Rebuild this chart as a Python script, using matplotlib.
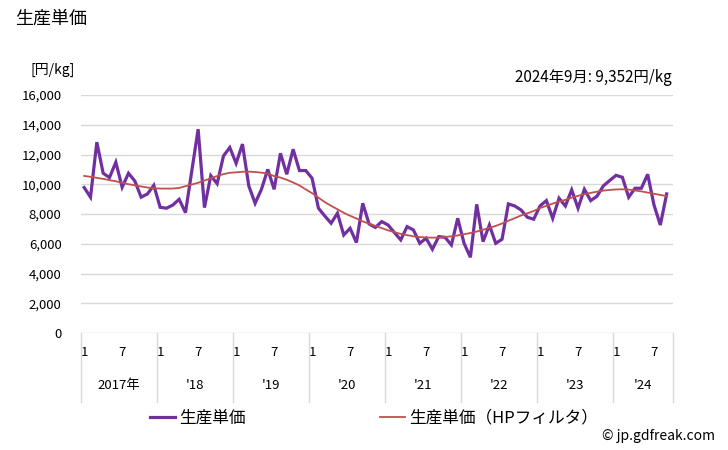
import numpy as np
import matplotlib.pyplot as plt
from matplotlib.lines import Line2D
import matplotlib.transforms as mtransforms

plt.rcParams['font.family'] = ['Noto Sans CJK JP', 'DejaVu Sans']

# monthly unit price, Jan 2017 - Sep 2024 (yen/kg)
price = [9780, 9130, 12830, 10740, 10450, 11480, 9800, 10740, 10220, 9130, 9350, 9930,
         8450, 8390, 8600, 8990, 8090, 10900, 13700, 8430, 10580, 10040, 11900, 12470,
         11410, 12700, 9890, 8720, 9660, 11000, 9660, 12080, 10670, 12350, 10920, 10920,
         10400, 8390, 7870, 7380, 8050, 6590, 7040, 6080, 8720, 7330, 7100, 7490,
         7260, 6750, 6260, 7150, 6930, 6030, 6370, 5630, 6480, 6430, 5920, 7710,
         6030, 5090, 8650, 6140, 7260, 6030, 6300, 8680, 8540, 8270, 7780, 7650,
         8540, 8900, 7710, 9060, 8540, 9620, 8390, 9660, 8900, 9200, 9890, 10250,
         10600, 10470, 9130, 9730, 9730, 10670, 8600, 7260, 9352]

# HP filter trend
trend = [10560, 10500, 10430, 10360, 10280, 10200, 10100, 10000, 9930, 9850, 9780, 9730,
         9710, 9710, 9710, 9750, 9870, 9980, 10100, 10250, 10400, 10550, 10680, 10770,
         10800, 10840, 10850, 10820, 10780, 10720, 10550, 10450, 10300, 10120, 9920, 9650,
         9400, 9100, 8800, 8550, 8320, 8080, 7880, 7700, 7500, 7350, 7200, 7050,
         6900, 6780, 6660, 6580, 6500, 6450, 6420, 6410, 6420, 6450, 6500, 6560,
         6640, 6720, 6820, 6940, 7070, 7200, 7360, 7550, 7720, 7900, 8050, 8200,
         8400, 8550, 8700, 8830, 8950, 9100, 9220, 9330, 9420, 9500, 9570, 9620,
         9650, 9660, 9640, 9580, 9520, 9440, 9360, 9280, 9210]

year_labels = ['2017年', "'18", "'19", "'20", "'21", "'22", "'23", "'24"]
yticks = [0, 2000, 4000, 6000, 8000, 10000, 12000, 14000, 16000]

purple = '#7030A0'
red = '#C0504D'
grid_c = '#D9D9D9'

fig = plt.figure(figsize=(7.28, 4.5), dpi=100)
ax = fig.add_axes([81/728, 1 - 333/450, 592/728, 238/450])

x = np.arange(len(price))
ax.plot(x, price, color=purple, lw=2.3, solid_joinstyle='miter', zorder=3)
ax.plot(x, trend, color=red, lw=1.3, zorder=4)

ax.set_xlim(-0.5, 93)
ax.set_ylim(0, 16000)
ax.set_yticks(yticks)
ax.set_yticklabels([f'{v:,}' for v in yticks], fontsize=9.5)
ax.yaxis.grid(True, color=grid_c, lw=1)
ax.set_axisbelow(True)
for s in ax.spines.values():
    s.set_visible(False)
ax.tick_params(axis='y', length=0, pad=14)

# month ticks
mt = []
ml = []
for k in range(len(year_labels)):
    mt += [12 * k, 12 * k + 6]
    ml += ['1', '7']
ax.set_xticks(mt)
ax.set_xticklabels(ml, fontsize=9.5)
ax.tick_params(axis='x', length=0, pad=9)

trans = mtransforms.blended_transform_factory(ax.transData, ax.transAxes)
bounds = [-0.5] + [12 * k - 0.5 for k in range(1, len(year_labels))] + [93]
for b in bounds:
    ax.add_line(Line2D([b, b], [0, -0.29], transform=trans, color=grid_c, lw=1, clip_on=False))
for k, lab in enumerate(year_labels):
    lo = bounds[k]
    hi = bounds[k + 1]
    ax.text((lo + hi) / 2, -0.22, lab, transform=trans, ha='center', va='center', fontsize=9.5)

fig.text(15/728, 1 - 19/450, '生産単価', fontsize=13, va='center', ha='left')
fig.text(30/728, 1 - 70/450, '[円/kg]', fontsize=10, va='center', ha='left')
fig.text(672/728, 1 - 77/450, '2024年9月: 9,352円/kg', fontsize=11, va='center', ha='right')
fig.text(715/728, 1 - 436/450, '© jp.gdfreak.com', fontsize=10, va='center', ha='right')

handles = [Line2D([], [], color=purple, lw=2.3), Line2D([], [], color=red, lw=1.3)]
fig.legend(handles, ['生産単価', '生産単価（HPフィルタ）'], loc='center', ncol=2,
           bbox_to_anchor=(374/728, 1 - 418/450), frameon=False, fontsize=12,
           handlelength=1.5, handletextpad=0.2, columnspacing=8.1)

fig.savefig('out.png', dpi=100)
